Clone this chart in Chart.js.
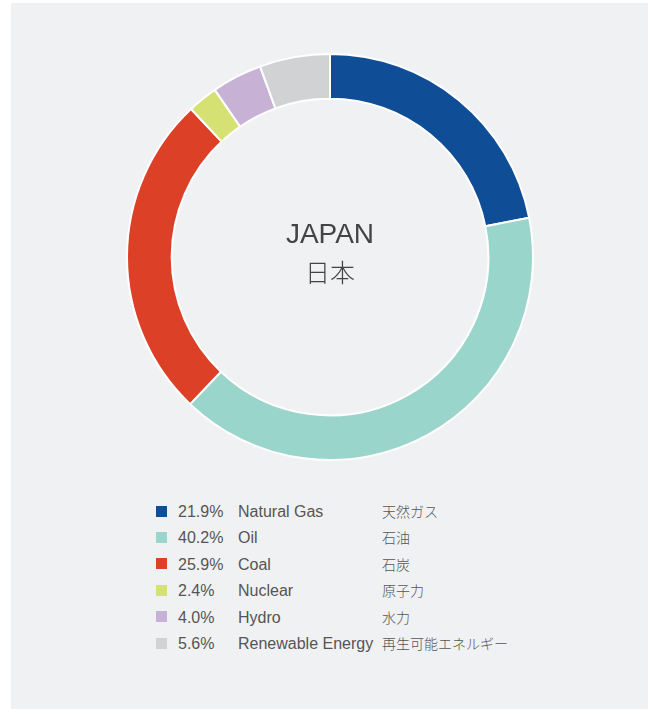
<!DOCTYPE html>
<html>
<head>
<meta charset="utf-8">
<script src="https://cdn.jsdelivr.net/npm/chart.js@4.4.1/dist/chart.umd.min.js"></script>
<style>
    html, body { margin: 0; padding: 0; background: #ffffff; }
    #panel {
        position: absolute; left: 11px; top: 3px; width: 637px; height: 706px;
        background: #f0f1f3;
    }
    #chartBox {
        position: absolute; left: 126px; top: 53px; width: 408px; height: 408px;
    }
    #centerText {
        position: absolute; left: 126px; top: 215px; width: 408px;
        text-align: center; color: #444;
        font-family: "Liberation Sans", Arial, sans-serif;
    }
    #centerText .title { font-size: 28px; line-height: 38px; }
    #centerText .titleJp { font-size: 25px; line-height: 36px; font-family: "Noto Sans CJK JP", sans-serif; font-weight: 300; }
    #legend {
        position: absolute; left: 156px; top: 498px;
        font-family: "Liberation Sans", Arial, sans-serif; font-size: 16px; color: #555;
    }
    .row { display: flex; align-items: baseline; height: 26.4px; line-height: 26.4px; }
    .sw { width: 11px; height: 11px; margin-right: 11px; align-self: center; }
    .pct { width: 60px; }
    .name { width: 144px; white-space: nowrap; }
    .nameJp { font-family: "Noto Sans CJK JP", sans-serif; font-weight: 300; font-size: 14px; white-space: nowrap; }
</style>
</head>
<body>
<div id="panel"></div>
<div id="chartBox"><canvas id="energyMixChart"></canvas></div>
<div id="centerText"><div class="title">JAPAN</div><div class="titleJp">日本</div></div>
<div id="legend"></div>
<script>
// Japan primary energy mix

const labelsEn = ['Natural Gas', 'Oil', 'Coal', 'Nuclear', 'Hydro', 'Renewable Energy'];
const labelsJp = ['天然ガス', '石油', '石炭', '原子力', '水力', '再生可能エネルギー'];
const shares = [21.9, 40.2, 25.9, 2.4, 4.0, 5.6];
const colors = ['#0f4d96', '#9ad5cb', '#dc4027', '#d6e173', '#c7b1d5', '#d1d2d4'];

function buildLegend() {
    const box = document.getElementById('legend');
    labelsEn.forEach((name, i) => {
        const row = document.createElement('div');
        row.className = 'row';
        row.innerHTML =
            '<div class="sw" style="background:' + colors[i] + '"></div>' +
            '<div class="pct">' + shares[i].toFixed(1) + '%</div>' +
            '<div class="name">' + name + '</div>' +
            '<div class="nameJp">' + labelsJp[i] + '</div>';
        box.appendChild(row);
    });
}

function createEnergyMixChart() {
    const ctx = document.getElementById('energyMixChart');
    if (ctx) {
        new Chart(ctx, {
            type: 'doughnut',
            data: {
                labels: labelsEn,
                datasets: [{
                    data: shares,
                    backgroundColor: colors,
                    borderColor: '#ffffff',
                    borderWidth: 2,
                    borderAlign: 'center'
                }]
            },
            options: {
                responsive: true,
                maintainAspectRatio: false,
                animation: false,
                cutout: '78%',
                plugins: {
                    legend: { display: false },
                    tooltip: { enabled: false }
                }
            }
        });
    }
}

buildLegend();
createEnergyMixChart();
</script>
</body>
</html>
